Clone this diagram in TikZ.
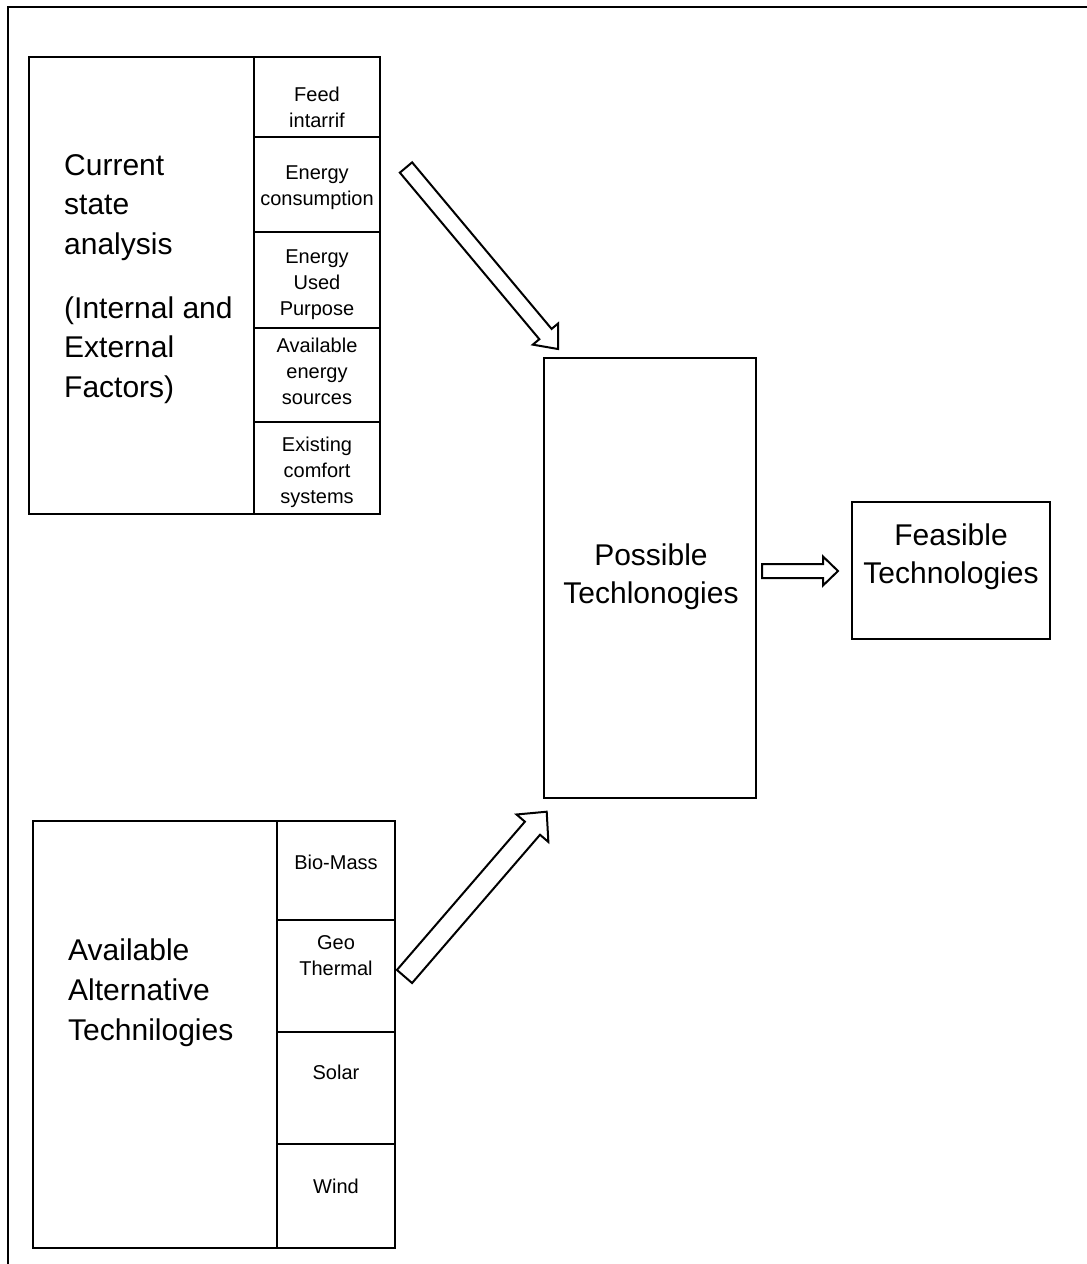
\documentclass[tikz,border=0pt]{standalone}
\usepackage{fontspec}
\setmainfont{Liberation Sans}
\usetikzlibrary{calc}
\tikzset{
  cell/.style={draw, line width=2pt, anchor=north west, inner sep=0pt, outer sep=0pt},
  bigtxt/.style={font=\fontsize{30}{39.5}\selectfont, inner sep=0pt},
  midtxt/.style={font=\fontsize{30}{38}\selectfont, inner sep=0pt, align=center, anchor=base},
  smalltxt/.style={font=\fontsize{20}{26}\selectfont, align=center, inner sep=0pt, anchor=base},
  barrow/.style={draw, line width=2pt, fill=white, line join=miter},
  frame/.style={draw, line width=2pt}
}
\newcommand\cellbox[5]{\node[cell, minimum width=#4pt, minimum height=#5pt] (#1) at (#2,#3) {};}
\newcommand\blockarr[5]{%
  \coordinate (#2-base) at ($(#2)!#5pt!(#1)$);
  \draw[barrow] ($(#1)!#3pt!90:(#2)$) -- ($(#2-base)!#3pt!90:(#2)$) -- ($(#2-base)!#4pt!90:(#2)$) -- (#2)
     -- ($(#2-base)!#4pt!-90:(#2)$) -- ($(#2-base)!#3pt!-90:(#2)$) -- ($(#1)!#3pt!-90:(#2)$) -- cycle;}
\begin{document}
\begin{tikzpicture}[x=1pt,y=-1pt]
\useasboundingbox (0,0) rectangle (1087,1264);
% outer frame (clipped on right and bottom)
\coordinate (fbl) at (8,1264);
\coordinate (ftl) at (8,7);
\coordinate (ftr) at (1087,7);
\draw[frame] (fbl) -- (ftl) -- (ftr);

% ---------- Current state analysis ----------
\cellbox{cs}{29}{57}{351}{457}
\cellbox{feed}{254}{57}{126}{80}
\cellbox{cons}{254}{137}{126}{95}
\cellbox{used}{254}{232}{126}{96}
\cellbox{avail}{254}{328}{126}{94}
\cellbox{exist}{254}{422}{126}{92}
% anchor=base refers to the baseline of the last line
\node[bigtxt, align=left, anchor=base west] (cstxt) at (64,397)
  {Current\\state\\analysis\\[24.5pt](Internal and\\External\\Factors)};
\node[smalltxt] (feedtxt) at (317,127) {Feed\\intarrif};
\node[smalltxt] (constxt) at (317,205) {Energy\\consumption};
\node[smalltxt] (usedtxt) at (317,315) {Energy\\Used\\Purpose};
\node[smalltxt] (availtxt) at (317,404) {Available\\energy\\sources};
\node[smalltxt] (existtxt) at (317,503) {Existing\\comfort\\systems};

% ---------- Available Alternative Technologies ----------
\cellbox{aat}{33}{821}{362}{427}
\cellbox{bio}{277}{821}{118}{99}
\cellbox{geo}{277}{920}{118}{112}
\cellbox{solar}{277}{1032}{118}{112}
\cellbox{wind}{277}{1144}{118}{104}
\node[bigtxt, align=left, anchor=base west, font=\fontsize{30}{40}\selectfont] (aattxt) at (68,1040)
  {Available\\Alternative\\Technilogies};
\node[smalltxt] (biotxt) at (336,869) {Bio-Mass};
\node[smalltxt] (geotxt) at (336,975) {Geo\\Thermal};
\node[smalltxt] (solartxt) at (336,1079) {Solar};
\node[smalltxt] (windtxt) at (336,1193) {Wind};

% ---------- Possible / Feasible ----------
\cellbox{poss}{544}{358}{212}{440}
\node[midtxt] (posstxt) at (651,603) {Possible\\Techlonogies};
\cellbox{feas}{852}{502}{198}{137}
\node[midtxt] (feastxt) at (951,583) {Feasible\\Technologies};

% ---------- block arrows ----------
\coordinate (a1t) at (406,167.5);
\coordinate (a1h) at (558,349);
\blockarr{a1t}{a1h}{8}{16.5}{19.5}
\coordinate (a2t) at (404.5,976.5);
\coordinate (a2h) at (546.7,811.7);
\blockarr{a2t}{a2h}{10}{21}{21.8}
\coordinate (a3t) at (762,571);
\coordinate (a3h) at (838,571);
\blockarr{a3t}{a3h}{7}{14.5}{15}
\end{tikzpicture}
\end{document}
